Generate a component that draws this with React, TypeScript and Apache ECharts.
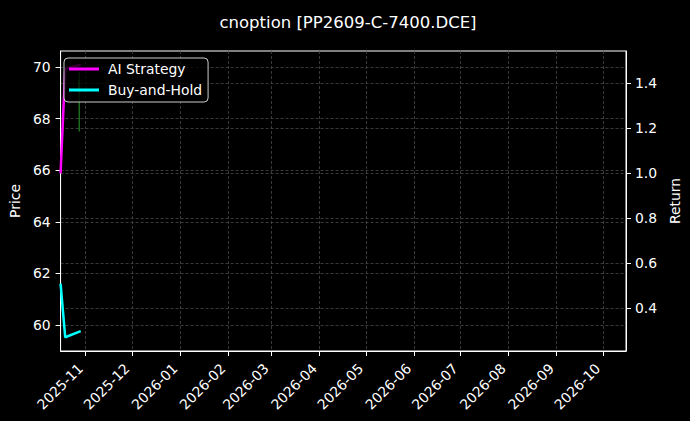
import { useEffect, useRef } from "react";
import * as echarts from "echarts";

// daily points, dates on the x axis
const dates = ["2025-10-16", "2025-10-19", "2025-10-29"];
const aiStrategy = [1.0, 1.465, 1.483];
const buyAndHold = [0.51, 0.271, 0.298];

// a single candle, mostly hidden under the legend
const candleDates = ["2025-10-28"];
const candleOpen = [69.5];
const candleClose = [69.0];
const candleLow = [67.5];
const candleHigh = [69.8];

const monthTicks = [
  "2025-11", "2025-12", "2026-01", "2026-02", "2026-03", "2026-04",
  "2026-05", "2026-06", "2026-07", "2026-08", "2026-09", "2026-10"
];
const priceTicks = [60, 62, 64, 66, 68, 70];
const returnTicks = [0.4, 0.6, 0.8, 1.0, 1.2, 1.4];

const xRange = ["2025-10-16", "2026-10-16"];
const priceRange = [58.99, 70.62];
const returnRange = [0.21, 1.544];

const font = "DejaVu Sans";
const gridLine = { show: true, lineStyle: { color: "#474747", type: [3, 2] as number[], width: 0.8 } };

// dates are kept as local-time millis on a plain value axis
const ts = (s: string) =>
  new Date(s.length === 7 ? `${s}-01T00:00:00` : `${s}T00:00:00`).getTime();

const monthLabel = (v: number) => {
  const d = new Date(v);
  return `${d.getFullYear()}-${String(d.getMonth() + 1).padStart(2, "0")}`;
};

export default function App() {
  const ref = useRef<HTMLDivElement | null>(null);

  useEffect(() => {
    if (!ref.current) {
      return;
    }
    const instance = echarts.init(ref.current, null, { renderer: "svg" });
    const candleData = candleDates.map((d, i) => [
      ts(d), candleOpen[i], candleClose[i], candleLow[i], candleHigh[i]
    ]);

    instance.setOption({
      animation: false,
      backgroundColor: "#000",
      textStyle: { fontFamily: font },
      title: {
        text: "cnoption [PP2609-C-7400.DCE]",
        left: 343,
        textAlign: "center",
        top: 9,
        textStyle: { color: "#fff", fontSize: 16.5, fontWeight: "normal", fontFamily: font }
      },
      legend: {
        orient: "vertical",
        left: 64,
        top: 58,
        padding: [4, 6, 5, 5],
        itemGap: 7,
        itemWidth: 30,
        itemHeight: 3,
        icon: "rect",
        backgroundColor: "rgba(0,0,0,0.8)",
        borderColor: "#cccccc",
        borderWidth: 1,
        borderRadius: 4,
        textStyle: { color: "#fff", fontSize: 13.9, fontFamily: font, padding: [0, 0, 0, 4] },
        data: ["AI Strategy", "Buy-and-Hold"]
      },
      grid: {
        left: 57.5,
        right: 60,
        top: 51,
        bottom: 70,
        show: true,
        borderColor: "#fff",
        borderWidth: 1,
        backgroundColor: "transparent"
      },
      xAxis: {
        type: "value",
        min: ts(xRange[0]),
        max: ts(xRange[1]),
        axisLine: { show: true, onZero: false, lineStyle: { color: "#fff" } },
        axisTick: {
          show: true,
          length: 5,
          customValues: monthTicks.map(ts),
          lineStyle: { color: "#fff" }
        },
        axisLabel: {
          customValues: monthTicks.map(ts),
          rotate: 45,
          margin: 10,
          color: "#fff",
          fontSize: 13.9,
          fontFamily: font,
          formatter: (v: number) => `{a|${monthLabel(v)}}`,
          rich: { a: { padding: [0, 7, 0, 0], color: "#fff", fontSize: 13.9, fontFamily: font } }
        },
        splitLine: gridLine
      },
      yAxis: [
        {
          type: "value",
          position: "left",
          min: priceRange[0],
          max: priceRange[1],
          name: "Price",
          nameLocation: "middle",
          nameGap: 33,
          nameTextStyle: { color: "#fff", fontSize: 13.9, fontFamily: font },
          axisLine: { show: true, lineStyle: { color: "#fff" } },
          axisTick: { show: true, length: 5, customValues: priceTicks, lineStyle: { color: "#fff" } },
          axisLabel: {
            customValues: priceTicks,
            color: "#fff",
            fontSize: 13.9,
            fontFamily: font,
            margin: 10
          },
          splitLine: gridLine
        },
        {
          type: "value",
          position: "right",
          min: returnRange[0],
          max: returnRange[1],
          name: "Return",
          nameLocation: "middle",
          nameGap: 33,
          nameTextStyle: { color: "#fff", fontSize: 13.9, fontFamily: font },
          axisLine: { show: true, lineStyle: { color: "#fff" } },
          axisTick: { show: true, length: 5, customValues: returnTicks, lineStyle: { color: "#fff" } },
          axisLabel: {
            customValues: returnTicks,
            color: "#fff",
            fontSize: 13.9,
            fontFamily: font,
            margin: 9,
            formatter: (v: number) => v.toFixed(1)
          },
          splitLine: gridLine
        }
      ],
      series: [
        {
          name: "Price",
          type: "custom",
          yAxisIndex: 0,
          encode: { x: 0, y: [1, 2, 3, 4] },
          data: candleData,
          renderItem: (_params: any, api: any) => {
            const x = api.value(0);
            const o = api.value(1);
            const c = api.value(2);
            const top = api.coord([x, api.value(4)]);
            const bottom = api.coord([x, api.value(3)]);
            const b1 = api.coord([x, Math.max(o, c)]);
            const b2 = api.coord([x, Math.min(o, c)]);
            return {
              type: "group",
              children: [
                {
                  type: "line",
                  shape: { x1: top[0], y1: top[1], x2: bottom[0], y2: bottom[1] },
                  style: { stroke: "#2ca02c", lineWidth: 1 }
                },
                {
                  type: "rect",
                  shape: { x: b1[0] - 1, y: b1[1], width: 2, height: b2[1] - b1[1] },
                  style: { fill: "#2ca02c" }
                }
              ]
            };
          }
        },
        {
          name: "AI Strategy",
          type: "line",
          yAxisIndex: 1,
          showSymbol: false,
          symbol: "none",
          color: "#ff00ff",
          lineStyle: { color: "#ff00ff", width: 2.5 },
          data: dates.map((d, i) => [ts(d), aiStrategy[i]])
        },
        {
          name: "Buy-and-Hold",
          type: "line",
          yAxisIndex: 1,
          showSymbol: false,
          symbol: "none",
          color: "#00ffff",
          lineStyle: { color: "#00ffff", width: 2.5 },
          data: dates.map((d, i) => [ts(d), buyAndHold[i]])
        }
      ]
    });

    return () => {
      instance.dispose();
    };
  }, []);

  return (
    <div
      ref={ref}
      style={{ position: "fixed", left: 0, top: 0, width: 690, height: 421, background: "#000" }}
    />
  );
}
